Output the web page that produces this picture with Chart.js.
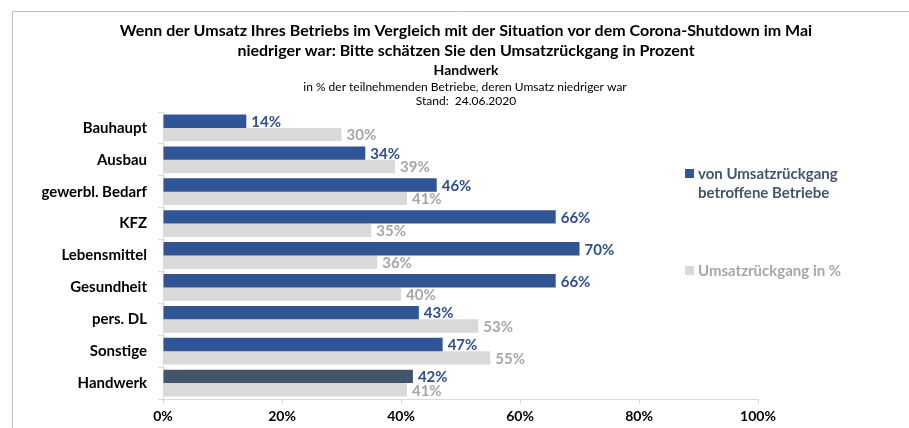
<!DOCTYPE html>
<html>
<head>
<meta charset="utf-8">
<script src="https://cdn.jsdelivr.net/npm/chart.js@4.4.1/dist/chart.umd.min.js"></script>
<style>
  html, body { margin: 0; padding: 0; background: #fff; }
  #wrap { width: 909px; height: 428px; position: relative; }
</style>
</head>
<body>
<div id="wrap"><canvas id="c" width="909" height="428"></canvas></div>
<script>
const categories = ["Bauhaupt", "Ausbau", "gewerbl. Bedarf", "KFZ", "Lebensmittel", "Gesundheit", "pers. DL", "Sonstige", "Handwerk"];
const betroffene = [14, 34, 46, 66, 70, 66, 43, 47, 42];
const rueckgang = [30, 39, 41, 35, 36, 40, 53, 55, 41];
const xTicks = [0, 20, 40, 60, 80, 100];
const seriesNames = ["von Umsatzrückgang betroffene Betriebe", "Umsatzrückgang in %"];
const legendLines = [["von Umsatzrückgang", "betroffene Betriebe"], ["Umsatzrückgang in %"]];
const titleLines = ["Wenn der Umsatz Ihres Betriebs im Vergleich mit der Situation vor dem Corona-Shutdown im Mai", "niedriger war: Bitte schätzen Sie den Umsatzrückgang in Prozent"];
const subTitle = "Handwerk";
const noteLines = ["in % der teilnehmenden Betriebe, deren Umsatz niedriger war", "Stand:  24.06.2020"];

const FONT = "Lato, 'Open Sans', sans-serif";
const BLUE = "#2F5597";
const DARK = "#44546A";
const GRAY = "#D9D9D9";
const LBLUE = "#2F4E8C";
const LGRAY = "#A6A6A6";

const blueColors = categories.map((c, i) => i === categories.length - 1 ? DARK : BLUE);

const decor = {
  id: 'decor',
  beforeDraw(chart) {
    const ctx = chart.ctx;
    ctx.save();
    ctx.strokeStyle = "#BFBFBF";
    ctx.lineWidth = 1;
    ctx.beginPath();
    ctx.moveTo(12.5, 428);
    ctx.lineTo(12.5, 11.5);
    ctx.lineTo(909, 11.5);
    ctx.stroke();
    ctx.restore();
  },
  afterDraw(chart) {
    const ctx = chart.ctx;
    ctx.save();
    ctx.textAlign = 'center';
    ctx.textBaseline = 'middle';
    ctx.fillStyle = '#000';
    ctx.font = "bold 16px " + FONT;
    ctx.fillText(titleLines[0], 466, 31);
    ctx.fillText(titleLines[1], 466, 51);
    ctx.font = "bold 14px " + FONT;
    ctx.fillText(subTitle, 466, 70);
    ctx.font = "12px " + FONT;
    ctx.fillText(noteLines[0], 465, 87);
    ctx.fillText(noteLines[1], 466, 101);

    // value labels
    ctx.textAlign = 'left';
    ctx.font = "bold 15px " + FONT;
    chart.data.datasets.forEach((ds, di) => {
      const meta = chart.getDatasetMeta(di);
      meta.data.forEach((bar, i) => {
        ctx.fillStyle = di === 0 ? LBLUE : LGRAY;
        ctx.fillText(ds.data[i] + "%", bar.x + 5, bar.y + 1);
      });
    });

    // legend
    ctx.font = "bold 15px " + FONT;
    const legendY = [173, 270];
    const legendColors = [BLUE, GRAY];
    const legendText = [DARK, LGRAY];
    legendLines.forEach((lines, k) => {
      ctx.fillStyle = legendColors[k];
      ctx.fillRect(685, legendY[k] - 4, 9, 9);
      ctx.fillStyle = legendText[k];
      lines.forEach((t, j) => ctx.fillText(t, 698, legendY[k] + j * 19 + 1));
    });
    ctx.restore();
  }
};

new Chart(document.getElementById('c'), {
  type: 'bar',
  data: {
    labels: categories,
    datasets: [
      { label: seriesNames[0], data: betroffene, backgroundColor: blueColors, borderWidth: 0 },
      { label: seriesNames[1], data: rueckgang, backgroundColor: GRAY, borderWidth: 0 }
    ]
  },
  options: {
    indexAxis: 'y',
    responsive: false,
    devicePixelRatio: 1,
    animation: false,
    layout: { padding: { top: 112, right: 151, bottom: 0, left: 0 } },
    datasets: { bar: { categoryPercentage: 0.84, barPercentage: 1.0 } },
    plugins: { legend: { display: false }, title: { display: false }, tooltip: { enabled: false } },
    scales: {
      x: {
        min: 0, max: 100,
        afterBuildTicks(scale) { scale.ticks = xTicks.map(v => ({ value: v })); },
        afterFit(scale) { scale.height = 29; },
        grid: { drawOnChartArea: false, drawTicks: true, tickLength: 5, color: "#D9D9D9" },
        border: { color: "#D9D9D9" },
        ticks: { callback: v => v + "%", color: "#000", font: { family: FONT, size: 14, weight: 'bold' }, padding: 4, maxRotation: 0 }
      },
      y: {
        afterFit(scale) { scale.width = 163; },
        grid: { drawOnChartArea: false, drawTicks: true, tickLength: 5, color: "#D9D9D9", offset: true },
        border: { color: "#D9D9D9" },
        ticks: { color: "#000", font: { family: FONT, size: 15, weight: 'bold' }, padding: 11 }
      }
    }
  },
  plugins: [decor]
});
</script>
</body>
</html>
